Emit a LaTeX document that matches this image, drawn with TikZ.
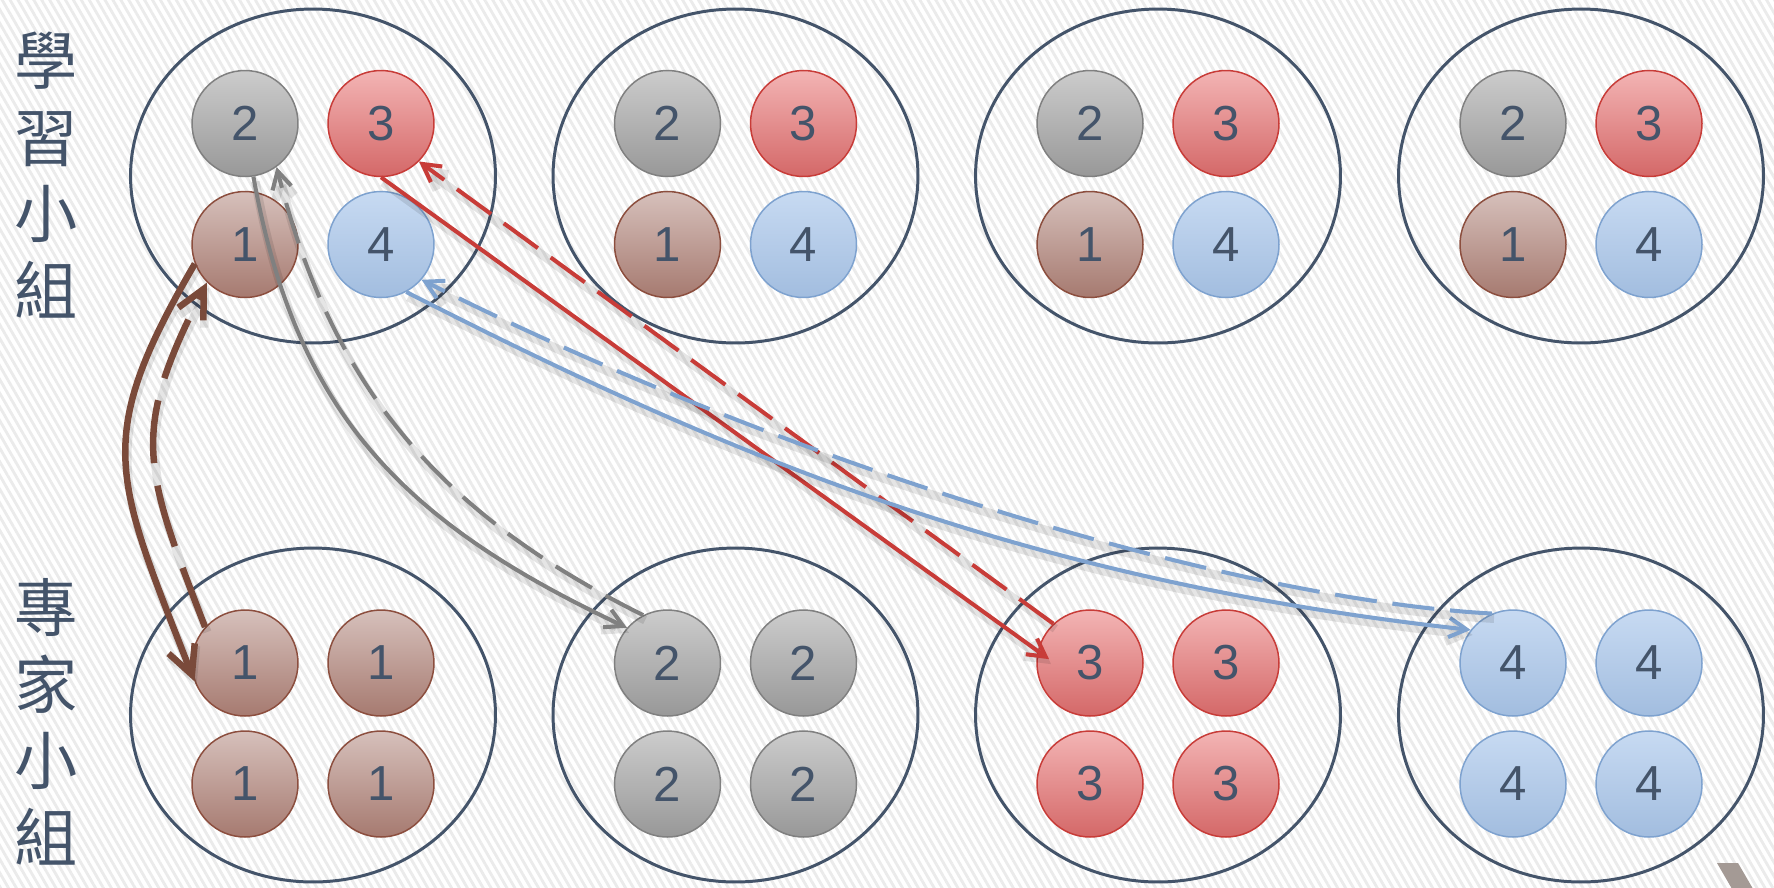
\documentclass[tikz,border=0pt]{standalone}
\usepackage{fontspec}
\setmainfont{Liberation Sans}
\newfontfamily\cjk{Noto Sans CJK TC}
\usetikzlibrary{shapes.geometric, arrows.meta, patterns.meta}

\definecolor{slate}{RGB}{68,84,106}
\definecolor{onetop}{RGB}{214,192,187}
\definecolor{onebot}{RGB}{166,122,112}
\definecolor{oneline}{RGB}{140,78,62}
\definecolor{onearrow}{RGB}{122,74,58}
\definecolor{twotop}{RGB}{204,204,204}
\definecolor{twobot}{RGB}{152,152,152}
\definecolor{twoline}{RGB}{128,128,128}
\definecolor{threetop}{RGB}{243,180,180}
\definecolor{threebot}{RGB}{212,104,104}
\definecolor{threeline}{RGB}{200,60,56}
\definecolor{fourtop}{RGB}{199,218,242}
\definecolor{fourbot}{RGB}{162,189,223}
\definecolor{fourline}{RGB}{126,162,207}
\definecolor{decor}{RGB}{164,154,149}

\begin{document}
\begin{tikzpicture}[x=0.02cm, y=-0.02cm,
    group/.style={ellipse, draw=slate, line width=1.7pt, minimum width=7.3cm, minimum height=6.68cm, inner sep=0pt},
    member/.style={circle, minimum size=2.12cm, inner sep=0pt, line width=0.85pt, text=slate, font=\fontsize{28}{34}\selectfont},
    one/.style={member, draw=oneline, top color=onetop, bottom color=onebot},
    two/.style={member, draw=twoline, top color=twotop, bottom color=twobot},
    three/.style={member, draw=threeline, top color=threetop, bottom color=threebot},
    four/.style={member, draw=fourline, top color=fourtop, bottom color=fourbot},
    label/.style={text=slate, font=\cjk\fontsize{36}{43.6}\selectfont, align=center},
    link/.style={line width=2.3pt, -{Straight Barb[length=10pt,width=11pt]},
      preaction={draw=black, draw opacity=.1, line width=5pt, transform canvas={shift={(2,5)}}}},
    back/.style={link, dash pattern=on 24pt off 9pt},
    biglink/.style={link, line width=3.7pt, -{Straight Barb[length=16pt,width=16pt]}},
    bigback/.style={biglink, dash pattern=on 36pt off 13pt}]

      \useasboundingbox (0,0) rectangle (1774,887);
      \clip (0,0) rectangle (1774,887);
      \fill[white] (0,0) rectangle (1774,887);
      \fill[pattern={Lines[angle=-60,distance=3.9pt,line width=1.6pt]}, pattern color=black!8] (0,0) rectangle (1774,887);
      \fill[decor] (1717,863) -- (1738,863) -- (1756,894) -- (1735,894) -- cycle;

      \node[label] (learnlabel) at (46,175) {學\\習\\小\\組};
      \node[label] (expertlabel) at (46,722) {專\\家\\小\\組};

      % learning groups
      \node[group] (learn1) at (313,176) {};
      \node[two] (l1-2) at (245,123.5) {2};
      \node[three] (l1-3) at (381,123.5) {3};
      \node[one] (l1-1) at (245,244.5) {1};
      \node[four] (l1-4) at (381,244.5) {4};

      \node[group] (learn2) at (735.5,176) {};
      \node[two] (l2-2) at (667.5,123.5) {2};
      \node[three] (l2-3) at (803.5,123.5) {3};
      \node[one] (l2-1) at (667.5,244.5) {1};
      \node[four] (l2-4) at (803.5,244.5) {4};

      \node[group] (learn3) at (1158,176) {};
      \node[two] (l3-2) at (1090,123.5) {2};
      \node[three] (l3-3) at (1226,123.5) {3};
      \node[one] (l3-1) at (1090,244.5) {1};
      \node[four] (l3-4) at (1226,244.5) {4};

      \node[group] (learn4) at (1581,176) {};
      \node[two] (l4-2) at (1513,123.5) {2};
      \node[three] (l4-3) at (1649,123.5) {3};
      \node[one] (l4-1) at (1513,244.5) {1};
      \node[four] (l4-4) at (1649,244.5) {4};

      % expert groups
      \node[group] (expert1) at (313,715) {};
      \node[one] (e1-a) at (245,663) {1};
      \node[one] (e1-b) at (381,663) {1};
      \node[one] (e1-c) at (245,784) {1};
      \node[one] (e1-d) at (381,784) {1};

      \node[group] (expert2) at (735.5,715) {};
      \node[two] (e2-a) at (667.5,663) {2};
      \node[two] (e2-b) at (803.5,663) {2};
      \node[two] (e2-c) at (667.5,784) {2};
      \node[two] (e2-d) at (803.5,784) {2};

      \node[group] (expert3) at (1158,715) {};
      \node[three] (e3-a) at (1090,663) {3};
      \node[three] (e3-b) at (1226,663) {3};
      \node[three] (e3-c) at (1090,784) {3};
      \node[three] (e3-d) at (1226,784) {3};

      \node[group] (expert4) at (1581,715) {};
      \node[four] (e4-a) at (1513,663) {4};
      \node[four] (e4-b) at (1649,663) {4};
      \node[four] (e4-c) at (1513,784) {4};
      \node[four] (e4-d) at (1649,784) {4};

      \draw[biglink, onearrow] (l1-1.201) .. controls (92,440) and (114,475) .. (e1-a.200);
      \draw[bigback, onearrow] (e1-a.138) .. controls (143,466) and (130,433) .. (l1-1.225);

      \draw[link, twoline] (l1-2.279) .. controls (296,414) and (403,522) .. (e2-a.139);
      \draw[back, twoline] (e2-a.117) .. controls (432,510) and (330,380) .. (l1-2.306);

      \draw[link, threeline, shorten >=-8pt] (l1-3.270) -- (e3-a.167);
      \draw[back, threeline] (e3-a.133) -- (l1-3.315);

      \draw[link, fourline] (l1-4.298) .. controls (722,453) and (1019,580) .. (e4-a.142);
      \draw[back, fourline] (e4-a.113) .. controls (1240,600) and (800,470) .. (l1-4.319);
\end{tikzpicture}
\end{document}
